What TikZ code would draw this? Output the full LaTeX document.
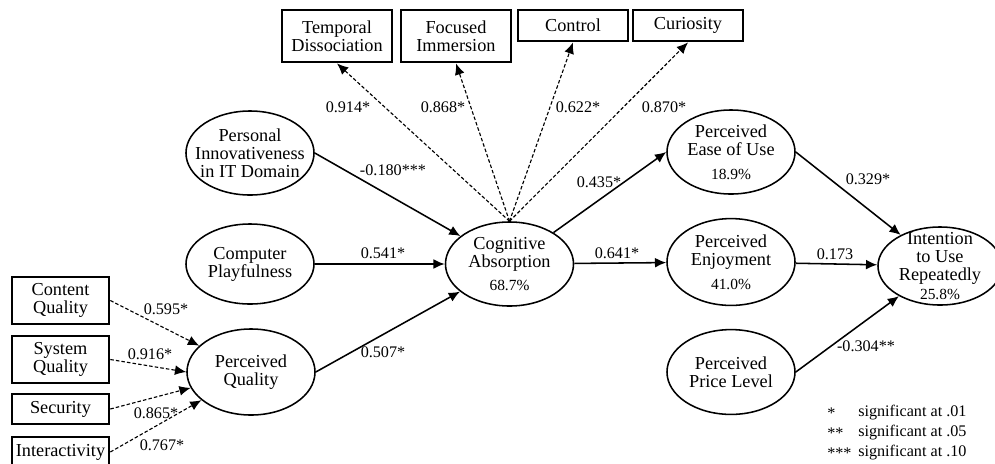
\documentclass[tikz,border=0pt]{standalone}
\usepackage{fontspec}
\setmainfont{Liberation Serif}
\usepackage{tikz}
\usetikzlibrary{shapes,arrows.meta,positioning}

\newcommand{\pctval}[1]{{\fontsize{11}{11}\selectfont #1}}

\begin{document}
\begin{tikzpicture}[x=0.025cm, y=-0.025cm,
    latent/.style={draw, ellipse, line width=1.1pt, minimum width=3.2cm, minimum height=2.1cm, inner sep=0pt},
    ltext/.style={align=center, inner sep=0pt, font=\fontsize{13}{12.8}\selectfont},
    indicator/.style={draw, rectangle, line width=2pt, minimum width=2.42cm, align=center, inner sep=1pt, font=\fontsize{13}{12.8}\selectfont},
    arrow/.style={-{Latex[length=8pt,width=7pt]}, line width=1.1pt},
    dasharrow/.style={-{Latex[length=8pt,width=7pt]}, line width=0.8pt, dash pattern=on 2.5pt off 1.5pt},
    coef/.style={font=\fontsize{11.5}{11.5}\selectfont, inner sep=1pt},
    legend/.style={anchor=west, font=\fontsize{11.5}{11.5}\selectfont, inner sep=0pt}
]
\useasboundingbox (0,0) rectangle (995,463);

% latent constructs
\node[latent, label={[ltext]center:Personal\\Innovativeness\\in IT Domain}] (pi) at (250,153) {};
\node[latent, minimum height=2cm, label={[ltext]center:Computer\\Playfulness}] (cp) at (250,264) {};
\node[latent, minimum height=2.15cm, label={[ltext]center:Perceived\\Quality}] (pq) at (251,372) {};
\node[latent, label={[ltext]center:Cognitive\\Absorption\\[4pt]\pctval{68.7\%}}] (ca) at (509.5,264) {};
\node[latent, label={[ltext]center:Perceived\\Ease of Use\\[4pt]\pctval{18.9\%}}] (eou) at (731,152) {};
\node[latent, minimum height=2.17cm, label={[ltext]center:Perceived\\Enjoyment\\[4pt]\pctval{41.0\%}}] (pe) at (731,262) {};
\node[latent, minimum height=2.12cm, label={[ltext]center:Perceived\\Price Level}] (ppl) at (731,372) {};
\node[latent, minimum width=3.1cm, minimum height=1.95cm, label={[ltext]center:Intention\\to Use\\Repeatedly\\[1pt]\pctval{25.8\%}}] (iur) at (940,266) {};

% indicators
\node[indicator, minimum width=2.75cm, minimum height=1.3cm] (td) at (337,36) {Temporal\\Dissociation};
\node[indicator, minimum width=2.75cm, minimum height=1.3cm] (fi) at (456,36) {Focused\\Immersion};
\node[indicator, minimum width=2.75cm, minimum height=0.775cm] (ctl) at (573,25.5) {Control};
\node[indicator, minimum width=2.75cm, minimum height=0.775cm] (cur) at (688,25.5) {Curiosity};

\node[indicator, minimum height=1.175cm] (cq) at (60.5,300.5) {Content\\Quality};
\node[indicator, minimum height=1.175cm] (sq) at (60.5,359.5) {System\\Quality};
\node[indicator, minimum height=0.75cm] (sec) at (60.5,409) {Security};
\node[indicator, minimum height=0.75cm] (ia) at (60.5,452) {Interactivity};

% paths
\draw[arrow] (pi.east) -- (ca);
\draw[arrow] (cp) -- (ca);
\draw[arrow] (pq.east) -- (ca);
\draw[arrow] (ca) -- (eou.west);
\draw[arrow] (ca) -- (pe);
\draw[arrow] (eou.east) -- (iur);
\draw[arrow] (pe) -- (iur);
\draw[arrow] (ppl.east) -- (iur);

\foreach \b in {td,fi,ctl,cur}
    \draw[dasharrow] (ca.north) -- (\b.south);
\draw[dasharrow] (cq.east) -- (pq);
\draw[dasharrow] (sq.east) -- (pq.west);
\draw[dasharrow] (sec.east) -- (pq);
\draw[dasharrow] (ia.east) -- (pq);

% coefficients
\node[coef] (ktd) at (348,107) {0.914*};
\node[coef] (kfi) at (443,107) {0.868*};
\node[coef] (kctl) at (578,107) {0.622*};
\node[coef] (kcur) at (664,107) {0.870*};
\node[coef] (kpi) at (393,170) {-0.180***};
\node[coef] (keou) at (599,182) {0.435*};
\node[coef] (kcp) at (383,253) {0.541*};
\node[coef] (kpe) at (617,253) {0.641*};
\node[coef] (kpq) at (383,352) {0.507*};
\node[coef] (kiu1) at (868,179) {0.329*};
\node[coef] (kiu2) at (835,254) {0.173};
\node[coef] (kiu3) at (866,346) {-0.304**};
\node[coef] (kcq) at (166,309) {0.595*};
\node[coef] (ksq) at (150,354) {0.916*};
\node[coef] (ksec) at (156,413) {0.865*};
\node[coef] (kia) at (162,445) {0.767*};

% legend
\node[legend] (st1) at (827,413) {*};
\node[legend] (st2) at (827,433) {**};
\node[legend] (st3) at (827,453) {***};
\node[legend] (lg1) at (858,413) {significant at .01};
\node[legend] (lg2) at (858,433) {significant at .05};
\node[legend] (lg3) at (858,453) {significant at .10};

\end{tikzpicture}
\end{document}
